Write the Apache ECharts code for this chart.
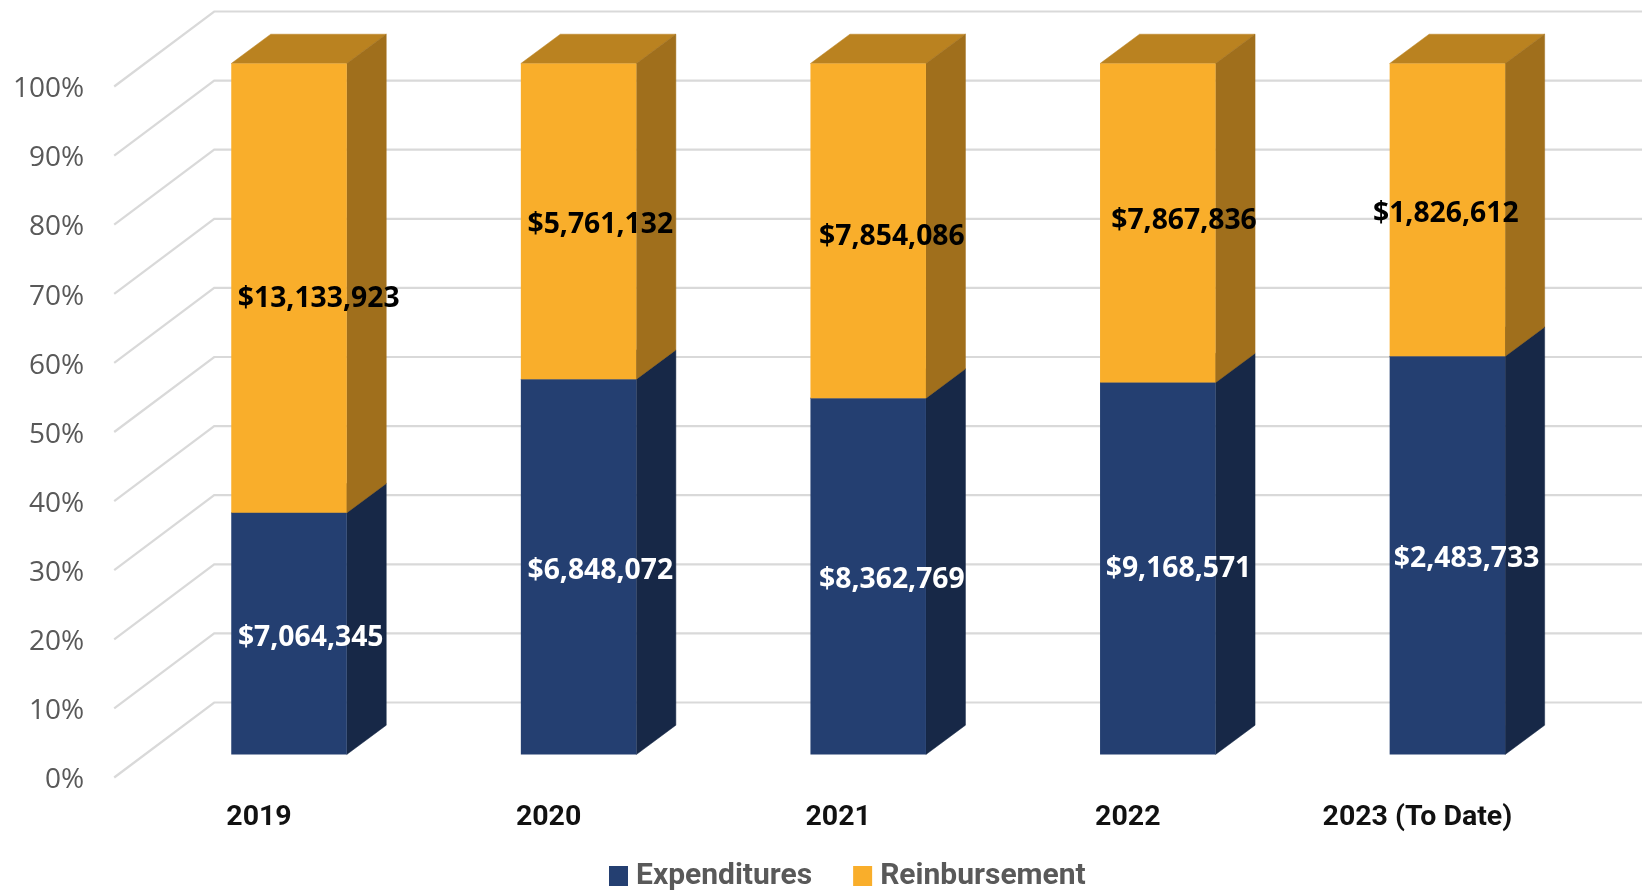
<!DOCTYPE html>
<html><head><meta charset="utf-8">
<style>html,body{margin:0;padding:0;background:#fff}#c{width:1642px;height:890px}</style>
<script src="https://cdn.jsdelivr.net/npm/echarts@6/dist/echarts.min.js"></script>
</head><body><div id="c"></div>
<script>
const categories = ['2019','2020','2021','2022','2023 (To Date)'];
const expenditures = [7064345,6848072,8362769,9168571,2483733];
const reimbursement = [13133923,5761132,7854086,7867836,1826612];
const yTicks = [0,10,20,30,40,50,60,70,80,90,100];
const seriesNames = ['Expenditures','Reinbursement'];

// styling / placement constants
const AXIS_LIFT = 2.8;           // tick labels sit slightly below their gridline starts
const FLOOR = [30,-23-AXIS_LIFT], DEPTH = [39.5,-29.3], WALL = [100,-75], BAR_W = 115.5;
const LABEL_DROP = 2.3;
const FACES = {
  Expenditures:{front:'#243F71',side:'#172847',top:'#1C3159',text:'#fff'},
  Reinbursement:{front:'#F9AE2B',side:'#A06F1C',top:'#BA8220',text:'#000'}
};
const LABEL_NUDGE = {
  Expenditures:[[21.7,2],[21.7,2],[23.7,1],[20.7,-2],[19.2,1]],
  Reinbursement:[[29.7,8],[21.7,1],[23.7,4],[26.2,-4],[-1.6,1.5]]
};
const money = v => '$' + v.toLocaleString('en-US');
const totals = expenditures.map((v,i)=>v+reimbursement[i]);

function gridRender(params, api){
  const p = api.coord([0, api.value(0)]);
  const x0 = params.coordSys.x, y = p[1]-AXIS_LIFT;
  return {type:'polyline', silent:true,
    shape:{points:[[x0,y],[x0+WALL[0],y+WALL[1]],[api.getWidth(),y+WALL[1]]]},
    style:{stroke:'#D9D9D9',lineWidth:2.2,fill:null}};
}
function barRender(name){
  const c = FACES[name];
  return function(params, api){
    const i = api.value(0), a = api.value(1), b = api.value(2), amt = api.value(3);
    const pa = api.coord([i,a]), pb = api.coord([i,b]);
    const l = pa[0]+FLOOR[0]-BAR_W/2, r = l+BAR_W;
    const yb = pa[1]+FLOOR[1], yt = pb[1]+FLOOR[1];
    const dx = DEPTH[0], dy = DEPTH[1];
    const poly=(pts,f)=>({type:'polygon',shape:{points:pts},style:{fill:f,stroke:f,lineWidth:0.5}});
    const n = LABEL_NUDGE[name][i];
    return {type:'group',children:[
      poly([[l,yt],[r,yt],[r+dx,yt+dy],[l+dx,yt+dy]],c.top),
      poly([[r,yb],[r+dx,yb+dy],[r+dx,yt+dy],[r,yt]],c.side),
      {type:'rect',shape:{x:l,y:yt,width:BAR_W,height:yb-yt},style:{fill:c.front}},
      {type:'text',z2:50,style:{text:money(amt),x:(l+r)/2+n[0],y:(yb+yt)/2+n[1]+LABEL_DROP,
        align:'center',verticalAlign:'middle',fill:c.text,
        font:'700 28.3px "Open Sans"'}}
    ]};
  };
}
const pctLow = expenditures.map((v,i)=>v/totals[i]*100);
const expData = categories.map((_,i)=>[i,0,pctLow[i],expenditures[i]]);
const reiData = categories.map((_,i)=>[i,pctLow[i],100,reimbursement[i]]);

const chart = echarts.init(document.getElementById('c'),null,{renderer:'canvas'});
chart.setOption({
  animation:false,
  backgroundColor:'#fff',
  grid:{left:114.2,width:1448,top:86.5+AXIS_LIFT,height:691,containLabel:false},
  xAxis:{type:'category',data:categories,axisLine:{show:false},axisTick:{show:false},
    axisLabel:{interval:0,margin:23.5,color:'#111',fontFamily:'Roboto',fontWeight:'bold',fontSize:28.5}},
  yAxis:{type:'value',min:0,max:100,interval:10,axisLine:{show:false},axisTick:{show:false},splitLine:{show:false},
    axisLabel:{margin:30,color:'#595959',fontFamily:'"Open Sans"',fontSize:28,formatter:'{value}%'}},
  legend:{left:604,top:856,data:seriesNames,icon:'rect',itemWidth:19,itemHeight:20,itemGap:41,
    textStyle:{color:'#595959',fontFamily:'Roboto',fontWeight:'bold',fontSize:30,padding:[0,0,0,3]}},
  series:[
    {type:'custom',name:'grid',silent:true,z:1,renderItem:gridRender,encode:{y:0},data:yTicks.map(v=>[v])},
    {type:'custom',name:seriesNames[0],z:2,renderItem:barRender(seriesNames[0]),itemStyle:{color:FACES.Expenditures.front},encode:{x:0,y:2},data:expData},
    {type:'custom',name:seriesNames[1],z:3,renderItem:barRender(seriesNames[1]),itemStyle:{color:FACES.Reinbursement.front},encode:{x:0,y:2},data:reiData}
  ]
});
</script></body></html>
